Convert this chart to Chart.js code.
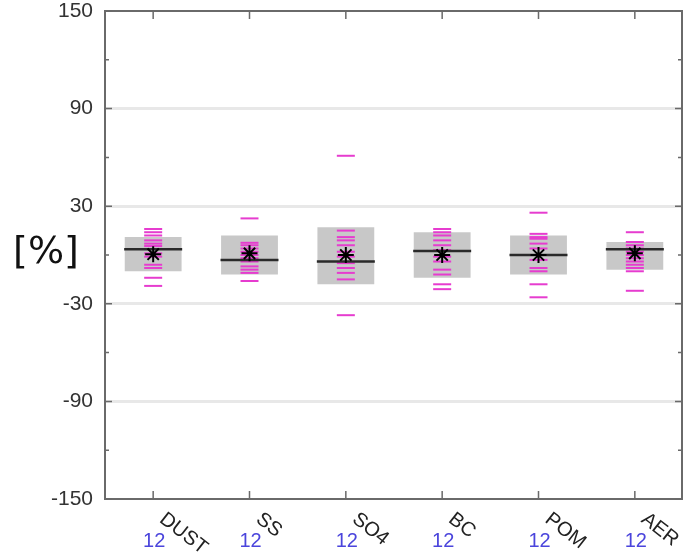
<!DOCTYPE html>
<html>
<head>
<meta charset="utf-8">
<script src="https://cdn.jsdelivr.net/npm/chart.js@4"></script>
<style>
	html, body { margin: 0; padding: 0; background: #fff; overflow: hidden; }
	canvas { display: block; }
</style>
</head>
<body>
<canvas id="spread" width="683" height="556"></canvas>
<script>
//
// Data: species, number of models, box (25-75 %),
//	median, mean and the value of each model.
//
const categories = [ "DUST", "SS", "SO4", "BC", "POM", "AER" ];
const modelCounts = [ 12, 12, 12, 12, 12, 12 ];
const boxLow = [ -10, -12, -18, -14, -12, -9 ];
const boxHigh = [ 11, 12, 17, 14, 12, 8 ];
const medians = [ 3.5, -3, -4, 2.5, 0, 3.5 ];
const means = [ 0.5, 1, 0, 0, 0, 1 ];
const dustModels = [ 16, 14, 12, 9, 7, 5.5, 1, -1, -6, -8, -14, -19 ];
const ssModels = [ 22.5, 7.5, 6, 4, 2, 0, -2, -4, -7, -9, -11, -16 ];
const so4Models = [ 61, 15, 11, 9, 6, 2, -1, -5, -8, -11, -15, -37 ];
const bcModels = [ 16, 14, 12, 9, 6, 3, -1, -4, -9, -12, -18, -21 ];
const pomModels = [ 26, 13, 11, 10, 7, 4, 0, -3, -8, -10, -18, -26 ];
const aerModels = [ 14, 8, 6, 4, 2, 0, -2, -4, -6, -8, -10, -22 ];
const yMin = -150;
const yMax = 150;
const yStep = 60;
const yMinorStep = 30;
const yUnit = "[%]";

const allModels = [ dustModels, ssModels, so4Models, bcModels, pomModels, aerModels ];
const modelPoints = [];
allModels.forEach( ( list, i ) => {
	list.forEach( v => modelPoints.push( { x: categories[ i ], y: v } ) );
} );

//
// Frame, inward ticks, unit label and rotated category labels.
//
const framePlugin = {
	id: "frame",
	afterDraw( chart ) {
		const ctx = chart.ctx;
		const area = chart.chartArea;
		const xs = chart.scales.x;
		const ys = chart.scales.y;
		ctx.save();
		ctx.strokeStyle = "#6a6a6a";
		ctx.lineWidth = 2;
		ctx.beginPath();
		ctx.moveTo( area.left, area.top );
		ctx.lineTo( area.right - 1, area.top );
		ctx.lineTo( area.right - 1, area.bottom );
		ctx.lineTo( area.left, area.bottom );
		ctx.closePath();
		ctx.stroke();

		ctx.lineWidth = 1.5;
		ctx.beginPath();
		for ( let v = yMin; v <= yMax; v += yMinorStep ) {
			const y = ys.getPixelForValue( v );
			const len = ( ( v - yMin ) % yStep === 0 ) ? 7 : 4;
			ctx.moveTo( area.left, y );
			ctx.lineTo( area.left + len, y );
			ctx.moveTo( area.right - 1, y );
			ctx.lineTo( area.right - 1 - len, y );
		}
		categories.forEach( ( c, i ) => {
			const x = xs.getPixelForValue( i );
			ctx.moveTo( x, area.top );
			ctx.lineTo( x, area.top + 8 );
			ctx.moveTo( x, area.bottom );
			ctx.lineTo( x, area.bottom - 8 );
		} );
		ctx.stroke();

		ctx.fillStyle = "#111";
		ctx.font = "38px 'DejaVu Sans'";
		ctx.textAlign = "center";
		ctx.textBaseline = "middle";
		ctx.fillText( yUnit, 46, ys.getPixelForValue( 0 ) - 2 );

		categories.forEach( ( c, i ) => {
			const x = xs.getPixelForValue( i );
			ctx.font = "20px 'Liberation Sans'";
			ctx.fillStyle = "#4b45dc";
			ctx.textAlign = "center";
			ctx.textBaseline = "middle";
			ctx.fillText( String( modelCounts[ i ] ), x + 1, area.bottom + 42 );

			ctx.save();
			ctx.translate( x + 15, area.bottom + 10 );
			ctx.rotate( 38 * Math.PI / 180 );
			ctx.fillStyle = "#222";
			ctx.textAlign = "left";
			ctx.textBaseline = "top";
			ctx.fillText( c, 0, 0 );
			ctx.restore();
		} );
		ctx.restore();
	}
};

new Chart( document.getElementById( "spread" ),
	{
		type: "bar",
		data: {
			labels: categories,
			datasets: [
				{
					label: "box",
					data: categories.map( ( c, i ) => [ boxLow[ i ], boxHigh[ i ] ] ),
					backgroundColor: "#c8c8c8",
					borderWidth: 0,
					categoryPercentage: 1,
					barPercentage: 0.59,
					order: 4
				},
				{
					type: "line",
					label: "models",
					data: modelPoints,
					showLine: false,
					pointStyle: "line",
					pointRadius: 9,
					pointBorderWidth: 2,
					pointBorderColor: "#e63ccf",
					order: 3
				},
				{
					type: "line",
					label: "median",
					data: medians,
					showLine: false,
					pointStyle: "line",
					pointRadius: 29,
					pointBorderWidth: 2.5,
					pointBorderColor: "#2a2a2a",
					order: 2
				},
				{
					type: "line",
					label: "mean",
					data: means,
					showLine: false,
					pointStyle: "star",
					pointRadius: 8,
					pointBorderWidth: 2,
					pointBorderColor: "#000",
					pointBackgroundColor: "#000",
					order: 1
				}
			]
		},
		options: {
			responsive: false,
			animation: false,
			layout: {
				autoPadding: false,
				padding: { top: 11, right: 0, bottom: 0, left: 0 }
			},
			plugins: {
				legend: { display: false },
				tooltip: { enabled: false }
			},
			scales: {
				x: {
					type: "category",
					offset: true,
					grid: { display: false },
					border: { display: false },
					ticks: { display: false },
					afterFit( scale ) { scale.height = 57; }
				},
				y: {
					min: yMin,
					max: yMax,
					border: { display: false },
					grid: {
						drawTicks: false,
						lineWidth: 3,
						color: ctx => ( ctx.tick && Math.abs( ctx.tick.value ) < yMax ) ? "#e8e8e8" : "rgba(0,0,0,0)"
					},
					ticks: {
						stepSize: yStep,
						padding: 12,
						color: "#333",
						font: { size: 21, family: "Liberation Sans" }
					},
					afterFit( scale ) {
						scale.width = 105;
						scale.paddingTop = 0;
						scale.paddingBottom = 0;
					}
				}
			}
		},
		plugins: [ framePlugin ]
	} );
</script>
</body>
</html>
